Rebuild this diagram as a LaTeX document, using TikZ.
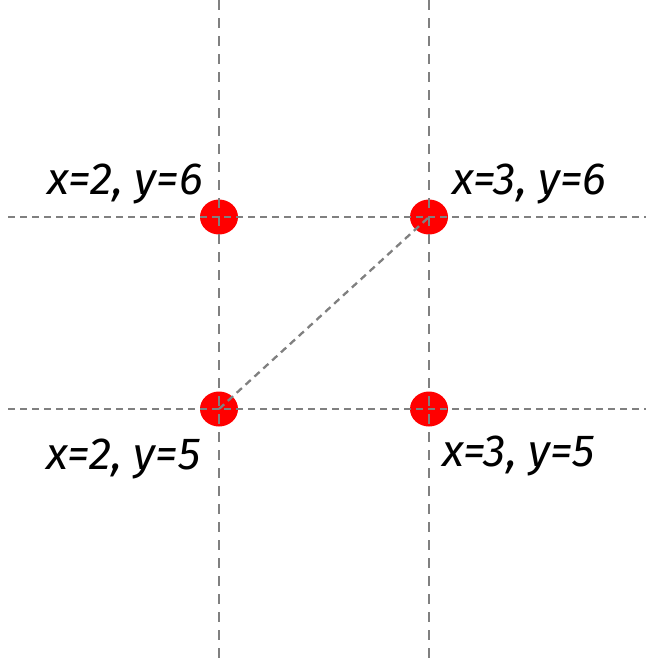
\documentclass[tikz,border=0pt]{standalone}
\usepackage{fontspec}
\setmainfont{Fira Sans}
\usetikzlibrary{positioning}
\tikzset{
    pt/.style={
        ellipse,
        fill=red,
        minimum width=38pt,
        minimum height=35pt,
        inner sep=0pt
    },
    lbl/.style={
        font=\fontsize{45}{54}\selectfont\itshape,
        inner sep=0pt,
        anchor=base west
    },
    hgrid/.style={gray, line width=2.3pt, dash pattern=on 7pt off 5pt},
    vgrid/.style={gray, line width=2.3pt, dash pattern=on 10pt off 8pt}
}
\usetikzlibrary{shapes.geometric}

\begin{document}
\begin{tikzpicture}[x=1pt, y=-1pt]
\useasboundingbox (0,0) rectangle (650,659);

% 1. Points
\node[pt] (p26) at (219,217) {};
\node[pt] (p36) at (429,217) {};
\node[pt] (p25) at (219,409) {};
\node[pt] (p35) at (429,409) {};

% 2. Labels
\node[lbl] (l26) at (47,194) {x=2, y=6};
\node[lbl] (l36) at (452,194) {x=3, y=6};
\node[lbl] (l25) at (46,469) {x=2, y=5};
\node[lbl] (l35) at (442,466) {x=3, y=5};

% 3. Grid ends
\coordinate (top2) at (219,0);
\coordinate (bot2) at (219,659);
\coordinate (top3) at (429,0);
\coordinate (bot3) at (429,659);
\coordinate (left6) at (8,217);
\coordinate (right6) at (646,217);
\coordinate (left5) at (8,409);
\coordinate (right5) at (646,409);

% 4. Grid lines
\draw[vgrid] (top2) -- (bot2);
\draw[vgrid] (top3) -- (bot3);
\draw[hgrid] (left6) -- (right6);
\draw[hgrid] (left5) -- (right5);
\draw[hgrid] (p25.center) -- (p36.center);

\end{tikzpicture}
\end{document}
